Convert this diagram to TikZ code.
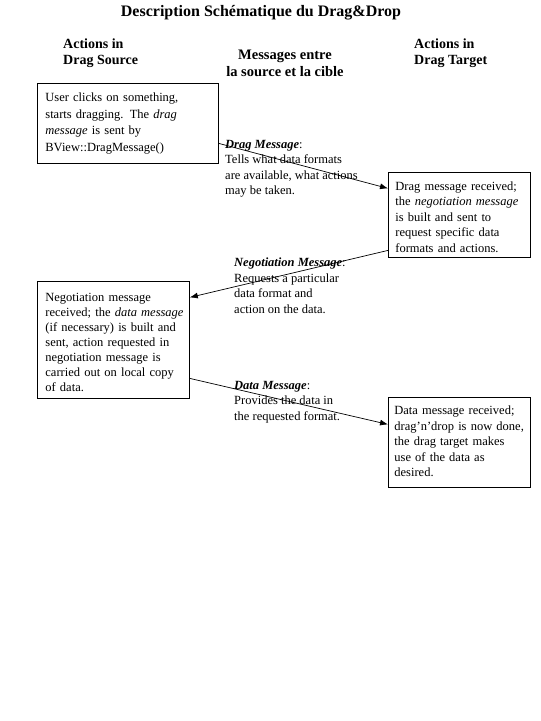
\documentclass[tikz,border=0pt]{standalone}
\usepackage{fontspec}
\setmainfont{Liberation Serif}
\usetikzlibrary{arrows.meta}
\newcommand\bodyfont{\fontsize{12.5}{15.5}\selectfont}
\newcommand\hdrfont{\fontsize{14}{16}\selectfont\bfseries}
\begin{document}
\begin{tikzpicture}[x=1pt,y=-1pt,
  box/.style={draw, line width=0.8pt, anchor=north west, inner xsep=8pt, inner ysep=0pt, align=left, font=\bodyfont},
  msg/.style={anchor=north west, inner sep=0pt, align=left, font=\bodyfont},
  hdr/.style={inner sep=0pt, font=\hdrfont},
  conn/.style={line width=0.7pt, -{Latex[length=8pt,width=6pt]}}]
\fill[white] (0,0) rectangle (541,721);
\useasboundingbox (0,0) rectangle (541,721);

\node[font=\fontsize{16}{19}\selectfont\bfseries, inner sep=0pt] (title) at (261,13) {Description Schématique du Drag\&Drop};

\node[hdr, anchor=north west, align=left] (hsrc) at (63,39) {Actions in\\Drag Source};
\node[hdr, anchor=north, align=center, font=\fontsize{14.5}{17}\selectfont\bfseries] (hmsg) at (285,50) {Messages entre\\la source et la cible};
\node[hdr, anchor=north west, align=left] (htgt) at (414,39) {Actions in\\Drag Target};

\node[box, text width=165pt, minimum height=80pt, font=\fontsize{12.5}{16.5}\selectfont] (b1) at (37,83) {\begin{tabular}{@{}l@{}}User clicks on something,\\starts dragging. The \textit{drag}\\\textit{message} is sent by\\BView::DragMessage()\end{tabular}};

\node[box, inner xsep=7pt, text width=128pt, minimum height=85pt] (b2) at (388,172) {\begin{tabular}{@{}l@{}}\noalign{\vskip 6pt}Drag message received;\\the \textit{negotiation message}\\is built and sent to\\request specific data\\formats and actions.\end{tabular}};

\node[box, text width=136pt, minimum height=117pt, font=\fontsize{12.5}{15}\selectfont] (b3) at (37,281) {\begin{tabular}{@{}l@{}}\noalign{\vskip 7pt}Negotiation message\\received; the \textit{data message}\\(if necessary) is built and\\sent, action requested in\\negotiation message is\\carried out on local copy\\of data.\end{tabular}};

\node[box, inner xsep=6pt, text width=130pt, minimum height=90pt] (b4) at (388,397) {\begin{tabular}{@{}l@{}}Data message received;\\drag'n'drop is now done,\\the drag target makes\\use of the data as\\desired.\end{tabular}};

\node[msg] (m1) at (225,140) {\textbf{\textit{Drag Message}}:\\Tells what data formats\\are available, what actions\\may be taken.};
\node[msg] (m2) at (234,258) {\textbf{\textit{Negotiation Message}}:\\Requests a particular\\data format and\\action on the data.};
\node[msg] (m3) at (234,381) {\textbf{\textit{Data Message}}:\\Provides the data in\\the requested format.};

\draw[conn] ([yshift=-20pt]b1.east) -- ([yshift=26.5pt]b2.west);
\draw[conn] ([yshift=-35.5pt]b2.west) -- ([yshift=42.5pt]b3.east);
\draw[conn] ([yshift=-38.5pt]b3.east) -- ([yshift=18pt]b4.west);
\end{tikzpicture}
\end{document}
